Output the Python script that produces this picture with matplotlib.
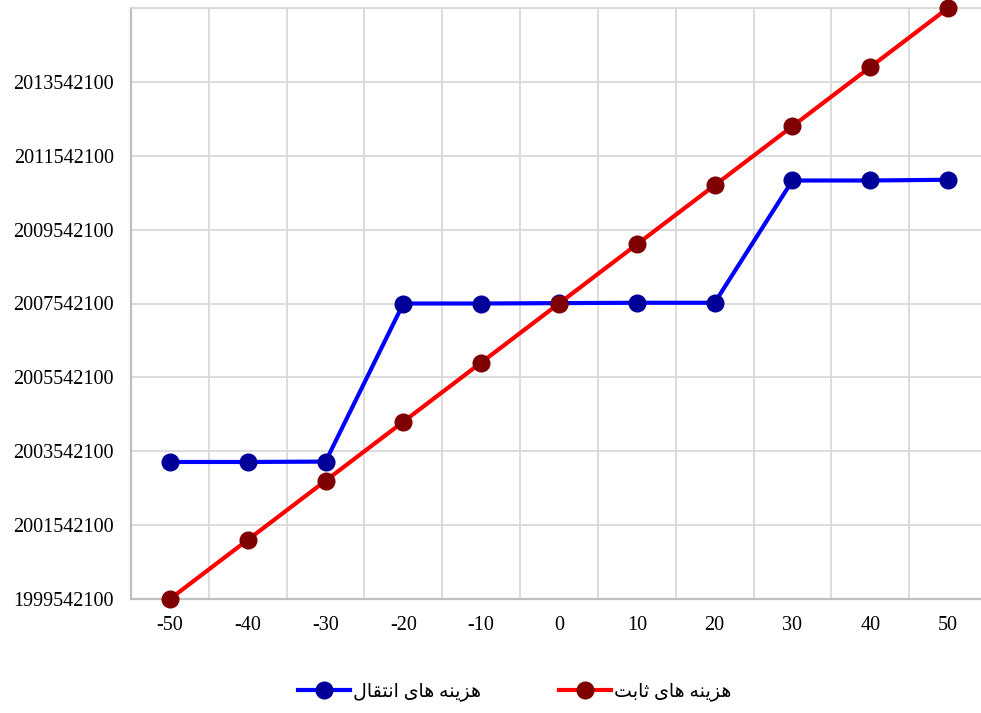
#Line chart: fixed cost vs transfer cost

#Import libraries
import numpy as np
import matplotlib
matplotlib.use('Agg')
import matplotlib.pyplot as plt

#Data
x_labels = ['-50', '-40', '-30', '-20', '-10', '0', '10', '20', '30', '40', '50']
transfer_cost = [2003252100, 2003252100, 2003262100, 2007542100, 2007542100, 2007552100,
                 2007562100, 2007562100, 2010872100, 2010872100, 2010892100]
fixed_cost = [1999542100, 2001142100, 2002742100, 2004342100, 2005942100, 2007542100,
              2009142100, 2010742100, 2012342100, 2013942100, 2015542100]
y_ticks = [1999542100, 2001542100, 2003542100, 2005542100, 2007542100,
           2009542100, 2011542100, 2013542100, 2015542100]
label_transfer = 'هزینه های انتقال'
label_fixed = 'هزینه های ثابت'

#Small Persian shaper (matplotlib does not join Arabic letters itself)
FORMS = {
    'ه': ('\uFEE9', '\uFEEA', '\uFEEB', '\uFEEC'),
    'ی': ('\uFBFC', '\uFBFD', '\uFBFE', '\uFBFF'),
    'ن': ('\uFEE5', '\uFEE6', '\uFEE7', '\uFEE8'),
    'ت': ('\uFE95', '\uFE96', '\uFE97', '\uFE98'),
    'ق': ('\uFED5', '\uFED6', '\uFED7', '\uFED8'),
    'ل': ('\uFEDD', '\uFEDE', '\uFEDF', '\uFEE0'),
    'ث': ('\uFE99', '\uFE9A', '\uFE9B', '\uFE9C'),
    'ب': ('\uFE8F', '\uFE90', '\uFE91', '\uFE92'),
    'ز': ('\uFEAF', '\uFEB0', None, None),
    'ا': ('\uFE8D', '\uFE8E', None, None),
}

def dual(c):
    return c in FORMS and FORMS[c][2] is not None

def shape(s):
    out = []
    for i, c in enumerate(s):
        if c not in FORMS:
            out.append(c)
            continue
        prev_join = i > 0 and dual(s[i - 1])
        next_join = dual(c) and i + 1 < len(s) and s[i + 1] in FORMS
        iso, fin, ini, med = FORMS[c]
        if prev_join and next_join:
            out.append(med)
        elif prev_join:
            out.append(fin)
        elif next_join:
            out.append(ini)
        else:
            out.append(iso)
    return ''.join(out[::-1])

plt.rcParams['font.family'] = ['Liberation Serif', 'DejaVu Sans']

fig = plt.figure(figsize=(9.81, 7.13), dpi=100)
ax = fig.add_axes([131/981, 1 - 599/713, (987 - 131)/981, (599 - 8)/713])

x = np.arange(len(x_labels))
ax.plot(x, transfer_cost, color='#0000FF', lw=3, marker='o', markersize=12,
        markerfacecolor='#000099', markeredgecolor='#000099',
        label=shape(label_transfer), clip_on=False, zorder=3)
ax.plot(x, fixed_cost, color='#FF0000', lw=3, marker='o', markersize=12,
        markerfacecolor='#7F0000', markeredgecolor='#7F0000',
        label=shape(label_fixed), clip_on=False, zorder=3)

ax.set_xlim(-0.5, len(x_labels) - 0.5)
ax.set_ylim(y_ticks[0], y_ticks[-1])

ax.set_xticks(x)
ax.set_xticklabels(x_labels, fontsize=14.5)
ax.set_xticks(np.arange(len(x_labels) + 1) - 0.5, minor=True)
ax.set_yticks(y_ticks)
ax.set_yticklabels([str(v) for v in y_ticks[:-1]] + [''], fontsize=14.5)

ax.tick_params(axis='both', which='both', length=0)
ax.tick_params(axis='y', pad=12.5)
ax.tick_params(axis='x', pad=12)
ax.grid(True, which='minor', axis='x', color='#D9D9D9', lw=1.3)
ax.grid(True, which='major', axis='y', color='#D9D9D9', lw=1.3)
ax.set_axisbelow(True)
for side in ['left', 'bottom']:
    ax.spines[side].set_color('#BFBFBF')
    ax.spines[side].set_linewidth(1.6)
ax.spines['top'].set_color('#D9D9D9')
ax.spines['top'].set_linewidth(1.3)
ax.spines['right'].set_visible(False)

fig.legend(loc='center', bbox_to_anchor=(515/981, 1 - 692/713), ncol=2, frameon=False,
           fontsize=13.7, handlelength=2.7, columnspacing=4.1, handletextpad=0.2)

plt.savefig('out.png', dpi=100)
